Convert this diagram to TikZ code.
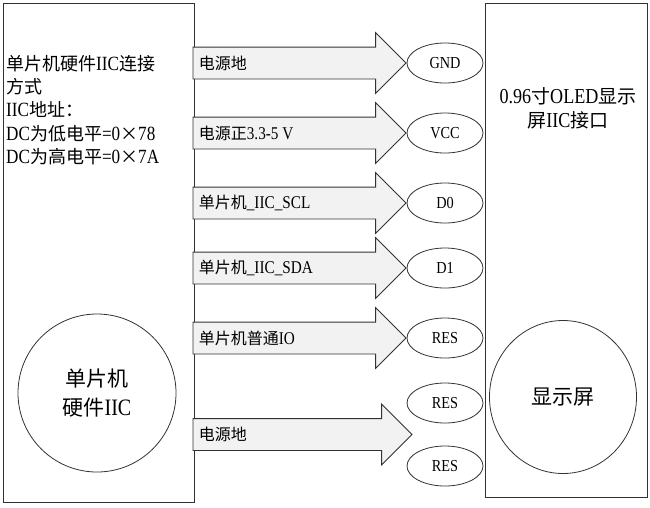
\documentclass[tikz,border=0pt]{standalone}
\usepackage{fontspec}
\setmainfont[FakeStretch=0.85, Scale=1.12]{Liberation Serif}
\newfontfamily\cjk{Noto Sans CJK SC}
\usetikzlibrary{positioning, shapes.geometric, shapes.arrows, calc}
\definecolor{arrowgray}{RGB}{242, 242, 242}
\definecolor{linegray}{RGB}{50, 50, 50}
\newcommand{\zh}[1]{{\cjk #1}}
\tikzset{
  panel/.style={
    draw=linegray, line width=0.8pt,
    rectangle, inner sep=0pt
  },
  boxtext/.style={
    inner sep=0pt, align=left,
    font=\fontsize{18}{23.25}\selectfont
  },
  core/.style={
    draw=linegray, line width=0.8pt, ellipse,
    inner sep=0pt, align=center,
    font=\fontsize{21}{29}\selectfont
  },
  pin/.style={
    draw=linegray, line width=0.8pt, ellipse,
    minimum width=76pt, minimum height=40pt, inner sep=0pt,
    font=\fontsize{15}{18}\selectfont
  },
  fatarrow/.style={
    draw=linegray, line width=0.8pt, fill=arrowgray,
    single arrow, single arrow head extend=14.5pt,
    inner xsep=0pt, inner ysep=15.5pt
  },
  siglabel/.style={inner sep=0pt, font=\fontsize{16}{18}\selectfont}
}
% name, tip point, length, label
\newcommand{\sigarrow}[4]{
  \node[fatarrow, minimum height=#3, anchor=tip] (#1) at (#2) {};
  \node[siglabel, anchor=west] (#1lbl) at ($(#1.tail)+(6,0)$) {#4};
}

\begin{document}
\begin{tikzpicture}[x=1pt, y=-1pt]
\useasboundingbox (0,0) rectangle (650,507);

% Boards
\node[panel, minimum width=191pt, minimum height=499pt, anchor=north west] (mcu) at (3,3) {};
\node[panel, minimum width=162pt, minimum height=494pt, anchor=north west] (oled) at (485,3) {};

% Board texts
\node[boxtext, anchor=north west] (mcutxt) at (6,55) {\zh{单片机硬件}IIC\zh{连接}\\\zh{方式}\\IIC\zh{地址：}\\DC\zh{为低电平}=0\zh{×}78\\DC\zh{为高电平}=0\zh{×}7A};
\node[boxtext, align=center, font=\fontsize{19}{24}\selectfont] (oledtxt) at (568,108) {0.96\zh{寸}OLED\zh{显示}\\\zh{屏}IIC\zh{接口}};

% Cores
\node[core, minimum size=158pt] (mcucore) at (97,393) {\zh{单片机}\\\zh{硬件}IIC};
\node[core, minimum width=147pt, minimum height=153pt] (screen) at (563,397) {\zh{显示屏}};

% Pins
\node[pin] (gnd) at (445,63) {GND};
\node[pin] (vcc) at (445,133) {VCC};
\node[pin] (d0) at (445,203) {D0};
\node[pin] (d1) at (445,268) {D1};
\node[pin] (resa) at (445,338) {RES};
\node[pin] (resb) at (445,403) {RES};
\node[pin] (resc) at (445,466) {RES};

% Signal arrows
\sigarrow{gndarrow}{gnd.west}{213pt}{\zh{电源地}}
\sigarrow{vccarrow}{vcc.west}{213pt}{\zh{电源正}3.3-5 V}
\sigarrow{sclarrow}{d0.west}{213pt}{\zh{单片机}\_IIC\_SCL}
\sigarrow{sdaarrow}{d1.west}{213pt}{\zh{单片机}\_IIC\_SDA}
\sigarrow{ioarrow}{resa.west}{213pt}{\zh{单片机普通}IO}
\sigarrow{gndbarrow}{$(resb.west)!0.5!(resc.west)+(6,0)$}{219pt}{\zh{电源地}}

\end{tikzpicture}
\end{document}
